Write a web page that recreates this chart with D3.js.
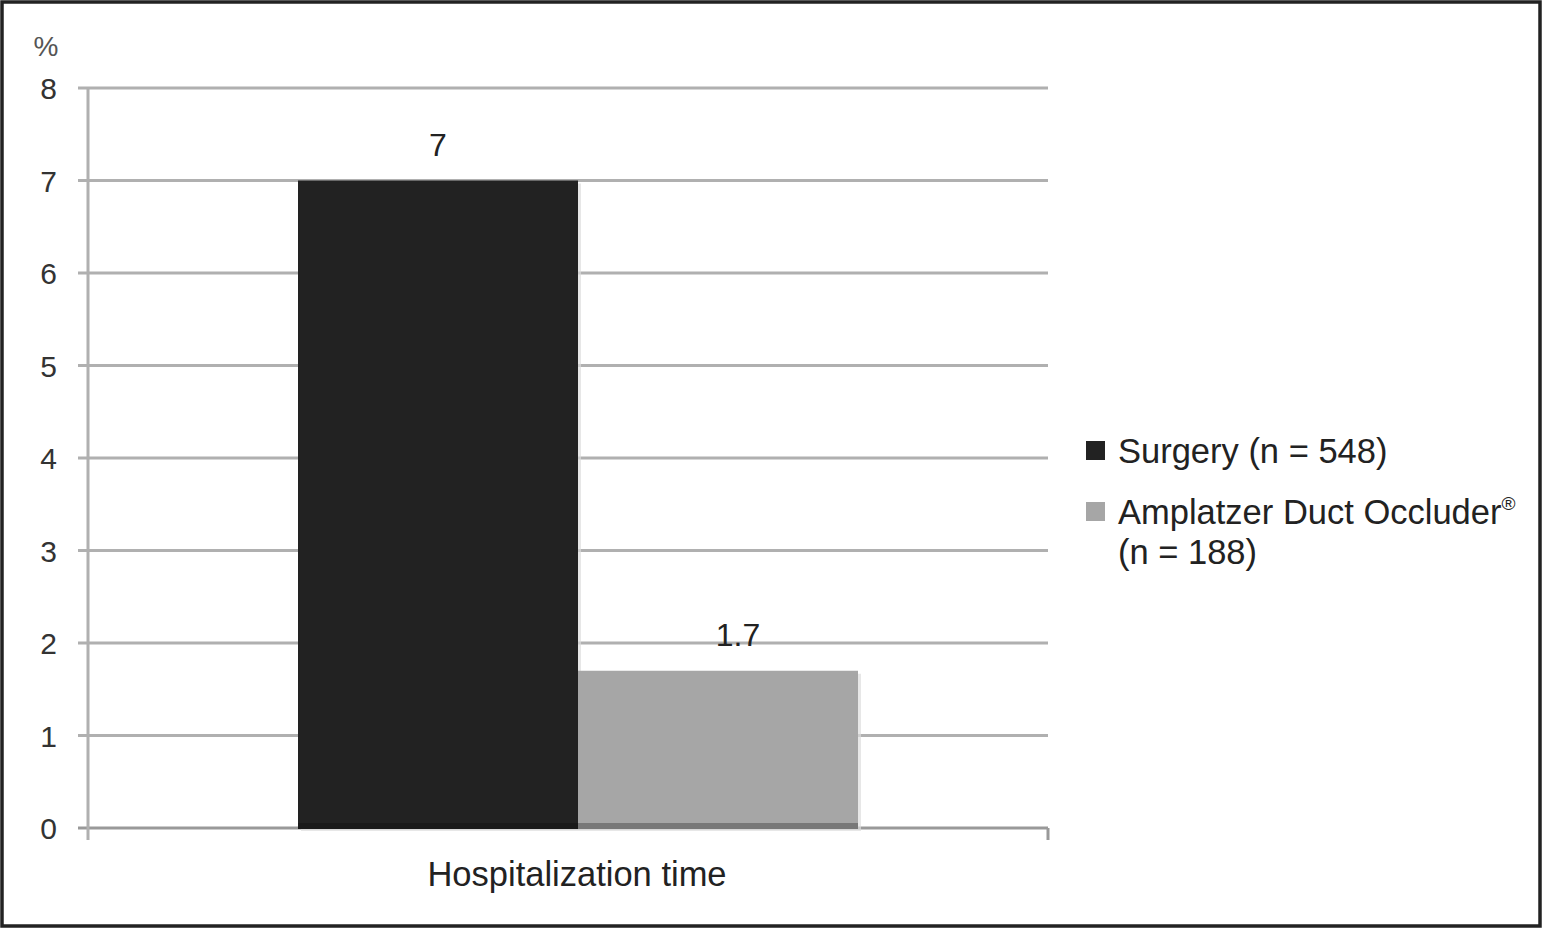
<!DOCTYPE html>
<html><head><meta charset="utf-8">
<script src="https://cdn.jsdelivr.net/npm/d3@7"></script>
<style>body{margin:0;background:#fff}svg{display:block}text{font-family:"Liberation Sans",Arial,sans-serif}</style>
</head><body>
<script>
const categories = ["Hospitalization time"];
const seriesNames = ["Surgery (n = 548)", "Amplatzer Duct Occluder®"];
const seriesSub = ["", "(n = 188)"];
const seriesValues = [[7], [1.7]];
const valueLabels = [["7"], ["1.7"]];
const yTicks = [0,1,2,3,4,5,6,7,8];
const colors = ["#222222", "#a6a6a6"];
const shadows = ["#1a1a1a", "#787878"];

const W = 1543, H = 929;
const svg = d3.select("body").append("svg").attr("width", W).attr("height", H);
svg.append("rect").attr("x",2).attr("y",2).attr("width",W-5).attr("height",H-5)
  .attr("fill","#fff").attr("stroke","#222").attr("stroke-width",3.5);

const y = d3.scaleLinear().domain([0,8]).range([828,88]);
const x0 = d3.scaleBand().domain(categories).range([298,858]).paddingInner(0).paddingOuter(0);
const x1 = d3.scaleBand().domain(d3.range(seriesNames.length)).range([0,x0.bandwidth()]);

// gridlines
const grid = svg.append("g");
yTicks.forEach(t => {
  grid.append("line").attr("x1",78).attr("x2",1048).attr("y1",y(t)).attr("y2",y(t))
    .attr("stroke", t===0 ? "#999" : "#b0b0b0").attr("stroke-width",3);
});
// y axis line
svg.append("line").attr("x1",88).attr("x2",88).attr("y1",y(8)).attr("y2",840)
  .attr("stroke","#b0b0b0").attr("stroke-width",3);
// right tick
svg.append("line").attr("x1",1048).attr("x2",1048).attr("y1",y(0)).attr("y2",840)
  .attr("stroke","#999").attr("stroke-width",3);

// y tick labels
const yAxis = d3.axisLeft(y).tickValues(yTicks).tickSize(0).tickPadding(0);
const ya = svg.append("g").attr("transform","translate(57,0)").call(yAxis);
ya.select(".domain").remove();
ya.selectAll("text").attr("font-size",30).attr("fill","#333")
  .attr("font-family","'Liberation Sans',Arial,sans-serif").attr("dy","0.35em");
svg.append("text").attr("x",46).attr("y",56).attr("text-anchor","middle")
  .attr("font-size",28).attr("fill","#555").text("%");

// bars
const labelShift = [0, 20];
categories.forEach((c, ci) => {
  seriesValues.forEach((vals, si) => {
    const v = vals[ci];
    const bx = x0(c) + x1(si), bw = x1.bandwidth();
    svg.append("rect").attr("x",bx+3).attr("y",y(v)+3).attr("width",bw).attr("height",y(0)-y(v))
      .attr("fill","#ddd").attr("opacity",0.7);
    svg.append("rect").attr("x",bx).attr("y",y(v)).attr("width",bw).attr("height",y(0)-y(v))
      .attr("fill",colors[si]);
    svg.append("rect").attr("x",bx).attr("y",y(0)-5).attr("width",bw).attr("height",6)
      .attr("fill",shadows[si]);
    svg.append("text").attr("x",bx+bw/2+labelShift[si]).attr("y",y(v)-25).attr("text-anchor","middle")
      .attr("font-size",32).attr("fill","#222").text(valueLabels[si][ci]);
  });
  svg.append("text").attr("x",x0(c)+x0.bandwidth()/2-1).attr("y",886).attr("text-anchor","middle")
    .attr("font-size",34.5).attr("fill","#222").text(c);
});

// legend
const lg = svg.append("g");
seriesNames.forEach((n, i) => {
  const ly = 441 + i*61;
  lg.append("rect").attr("x",1086).attr("y",ly).attr("width",19).attr("height",19).attr("fill",colors[i]);
  const t = lg.append("text").attr("x",1118).attr("y",ly+22).attr("font-size",34.5).attr("fill","#222");
  if (n.endsWith("®")) {
    t.text(n.slice(0,-1));
    t.append("tspan").attr("font-size",19).attr("dy",-14).text("®");
  } else t.text(n);
  if (seriesSub[i]) lg.append("text").attr("x",1118).attr("y",ly+62).attr("font-size",34.5).attr("fill","#222").text(seriesSub[i]);
});
</script>
</body></html>
